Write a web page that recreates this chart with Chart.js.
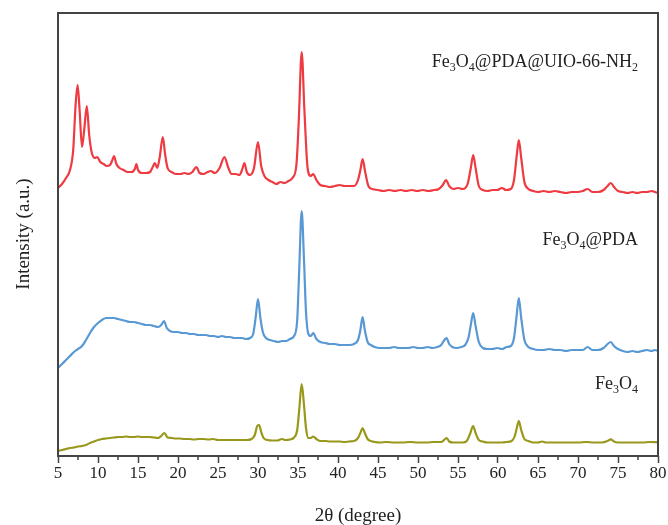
<!DOCTYPE html>
<html><head><meta charset="utf-8">
<script src="https://cdn.jsdelivr.net/npm/chart.js@4.4.0/dist/chart.umd.min.js"></script>
<style>html,body{margin:0;padding:0;background:#fff}#wrap{width:668px;height:525px}</style>
</head><body><div id="wrap"><canvas id="c" width="668" height="525"></canvas></div>
<script>
// 2θ tick labels
const xTickValues = [5,10,15,20,25,30,35,40,45,50,55,60,65,70,75,80];
const seriesNames = ['Fe3O4@PDA@UIO-66-NH2','Fe3O4@PDA','Fe3O4'];

// [2θ, intensity (a.u.)]
const uioSeries = [
[5.0,268],[5.5,272],[6.0,278],[6.5,286],[6.9,306],[7.2,351],[7.45,371],[7.7,346],[8.0,309],[8.3,328],[8.6,350],[8.9,321],[9.2,304],[9.6,298],[9.9,299],[10.3,294],[10.7,292],[11.1,290],[11.5,291],[11.8,296],[12.0,300],[12.3,292],[12.7,288],[13.2,286],[13.7,284],[14.2,284],[14.6,287],[14.8,292],[15.0,286],[15.5,283],[16.0,283],[16.5,284],[16.9,290],[17.1,293],[17.4,288],[17.7,298],[18.1,319],[18.4,301],[18.7,288],[19.2,284],[19.7,282],[20.3,282],[20.8,283],[21.3,282],[21.8,284],[22.3,289],[22.7,283],[23.2,282],[23.7,284],[24.1,285],[24.6,283],[25.2,288],[25.8,299],[26.3,288],[26.7,282],[27.2,282],[27.7,281],[28.0,286],[28.3,293],[28.6,284],[29.0,281],[29.5,288],[30.0,314],[30.4,290],[30.8,280],[31.3,276],[31.8,274],[32.3,272],[32.8,274],[33.3,273],[33.8,275],[34.3,278],[34.8,291],[35.1,336],[35.46,404],[35.8,346],[36.2,288],[36.6,280],[36.9,282],[37.3,276],[37.8,271],[38.4,270],[39.0,269],[39.6,270],[40.2,271],[40.8,270],[41.4,270],[42.0,270],[42.5,276],[42.8,286],[43.07,297],[43.4,284],[43.8,270],[44.3,267],[45.0,266],[45.7,265],[46.4,266],[47.1,265],[47.8,266],[48.5,265],[49.2,266],[49.9,265],[50.6,266],[51.3,265],[52.0,266],[52.6,267],[53.1,271],[53.5,276],[53.9,270],[54.4,267],[55.0,268],[55.6,267],[56.2,272],[56.6,288],[56.9,301],[57.2,288],[57.6,270],[58.1,266],[58.7,265],[59.3,266],[59.9,266],[60.5,268],[61.0,266],[61.6,267],[62.0,276],[62.35,301],[62.6,316],[62.9,298],[63.3,274],[63.8,267],[64.4,265],[65.0,264],[65.7,265],[66.4,264],[67.1,265],[67.8,264],[68.5,263],[69.2,264],[69.9,264],[70.6,265],[71.2,267],[71.8,264],[72.5,264],[73.2,266],[73.7,270],[74.1,273],[74.5,269],[75.0,265],[75.6,264],[76.2,263],[76.8,264],[77.4,263],[78.0,264],[78.6,264],[79.2,265],[79.6,264],[80.0,263]
];
const pdaSeries = [
[5.0,88],[5.5,92],[6.0,96],[6.5,100],[7.0,104],[7.5,107],[8.0,110],[8.5,116],[9.0,123],[9.5,129],[10.0,133],[10.5,136],[11.0,138],[11.5,138],[12.0,138],[12.5,137],[13.0,136],[13.5,135],[14.0,134],[14.5,134],[15.0,133],[15.5,132],[16.0,131],[16.5,131],[17.0,130],[17.5,129],[17.9,131],[18.25,135],[18.6,128],[19.0,125],[19.5,124],[20.0,124],[20.5,123],[21.0,123],[21.5,122],[22.0,122],[22.5,121],[23.0,121],[23.5,121],[24.0,120],[24.5,120],[25.0,119],[25.5,120],[26.0,119],[26.5,119],[27.0,118],[27.5,118],[28.0,118],[28.5,117],[29.0,118],[29.4,122],[29.7,138],[30.0,157],[30.3,138],[30.6,124],[31.0,118],[31.5,116],[32.0,115],[32.5,114],[33.0,115],[33.5,115],[34.0,117],[34.5,120],[34.9,136],[35.15,186],[35.46,245],[35.75,196],[36.0,144],[36.3,122],[36.6,120],[36.9,123],[37.3,117],[37.8,114],[38.4,113],[39.0,112],[39.6,112],[40.2,111],[40.8,111],[41.4,111],[42.0,112],[42.5,116],[42.8,126],[43.07,139],[43.35,126],[43.7,114],[44.1,111],[44.6,109],[45.2,108],[45.8,108],[46.4,108],[47.0,109],[47.6,108],[48.2,108],[48.8,108],[49.4,109],[50.0,108],[50.6,108],[51.2,109],[51.8,108],[52.4,109],[52.9,111],[53.3,116],[53.56,118],[53.9,112],[54.3,109],[54.8,108],[55.4,109],[55.9,111],[56.3,118],[56.6,131],[56.9,143],[57.2,130],[57.6,114],[58.1,108],[58.7,107],[59.3,107],[59.9,108],[60.5,107],[61.1,109],[61.6,110],[62.0,118],[62.3,138],[62.6,158],[62.9,138],[63.3,116],[63.8,109],[64.4,107],[65.0,106],[65.7,106],[66.4,107],[67.1,106],[67.8,106],[68.5,105],[69.2,106],[69.9,106],[70.6,106],[71.2,109],[71.8,106],[72.5,106],[73.2,108],[73.7,112],[74.1,114],[74.5,110],[75.0,107],[75.6,105],[76.2,104],[76.8,105],[77.4,104],[78.0,105],[78.6,106],[79.2,105],[79.6,106],[80.0,105]
];
const fe3o4Series = [
[5.0,5],[5.5,6],[6.0,7],[6.5,8],[7.0,8.5],[7.5,9.5],[8.0,10],[8.5,11],[9.0,13],[9.5,14.5],[10.0,16],[10.5,17],[11.0,17.5],[11.5,18],[12.0,18.5],[12.5,19],[13.0,19],[13.5,19.5],[14.0,19],[14.5,19],[15.0,19.5],[15.5,19],[16.0,19],[16.5,19],[17.0,18.5],[17.5,18],[17.9,20],[18.3,23],[18.7,18.5],[19.2,18],[19.7,17.5],[20.2,17.5],[20.8,17],[21.4,17],[22.0,16.5],[22.6,17],[23.2,17],[23.8,16.5],[24.4,17],[25.0,16],[25.6,16],[26.2,16],[26.8,16],[27.4,16],[28.0,16],[28.6,16],[29.2,17],[29.6,21],[29.9,30],[30.15,31],[30.4,24],[30.7,18],[31.2,16],[31.8,15.5],[32.4,15.5],[33.0,17],[33.4,16],[34.0,16.5],[34.5,18.5],[34.9,26],[35.15,46],[35.46,72],[35.75,51],[36.0,28],[36.3,18],[36.6,18],[36.9,19.5],[37.3,17],[37.8,15],[38.4,15],[39.0,14.5],[39.6,14.5],[40.2,14.5],[40.8,14],[41.4,14.5],[42.0,15],[42.5,18],[42.8,23],[43.07,28],[43.35,23],[43.7,17],[44.1,15],[44.6,14],[45.2,13.5],[46.0,14],[47.0,13.5],[48.0,13.5],[49.0,14],[50.0,13.5],[51.0,13.5],[52.0,14],[52.9,14],[53.2,15.5],[53.56,18],[53.9,14.5],[54.4,13.5],[55.0,13.5],[55.6,13.5],[56.1,15],[56.5,22],[56.9,30],[57.2,23],[57.6,16],[58.1,14.5],[58.7,13.5],[59.3,13.5],[59.9,13.5],[60.5,13.5],[61.1,14],[61.7,15],[62.1,20],[62.35,28],[62.6,35],[62.9,26],[63.3,17],[63.8,15],[64.4,13.5],[65.0,13.5],[65.5,14.5],[66.0,13.5],[67.0,13.5],[68.0,13.5],[69.0,13.5],[70.0,13.5],[71.0,14],[72.0,13.5],[73.0,13.5],[73.7,15],[74.1,16.7],[74.5,14.5],[75.0,13.5],[76.0,13.5],[77.0,13.5],[78.0,13.5],[79.0,14],[80.0,13.7]
];

const seriesColors = ['rgb(238,58,64)','rgb(88,152,212)','rgb(152,152,28)'];
const toPts = s => s.map(p => ({x:p[0], y:p[1]}));

const SERIF = '"Liberation Serif","Times New Roman",serif';
const TXT = '#222';

// draws "Fe3O4..." with subscript digits after element letters
function drawRich(ctx, text, rightX, baseY, size) {
  const segs = [];
  const re = /(Fe|O|H)(\d)/g;
  let last = 0, m;
  while ((m = re.exec(text)) !== null) {
    const end = m.index + m[1].length;
    segs.push({t: text.slice(last, end), sub:false});
    segs.push({t: m[2], sub:true});
    last = end + 1;
  }
  if (last < text.length) segs.push({t: text.slice(last), sub:false});
  const subSize = Math.round(size * 0.65);
  let total = 0;
  segs.forEach(s => { ctx.font = (s.sub?subSize:size) + 'px ' + SERIF; s.w = ctx.measureText(s.t).width; total += s.w; });
  let x = rightX - total;
  ctx.textBaseline = 'alphabetic';
  ctx.textAlign = 'left';
  segs.forEach(s => {
    ctx.font = (s.sub?subSize:size) + 'px ' + SERIF;
    ctx.fillText(s.t, x, baseY + (s.sub ? size*0.22 : 0));
    x += s.w;
  });
}

const decor = {
  id: 'decor',
  afterDatasetsDraw(chart) {
    const ctx = chart.ctx, a = chart.chartArea, xs = chart.scales.x;
    ctx.save();
    // frame
    ctx.strokeStyle = '#444'; ctx.lineWidth = 2;
    ctx.strokeRect(a.left, a.top, a.right - a.left, a.bottom - a.top);
    // minor ticks
    ctx.lineWidth = 1.5;
    for (let i = 0; i < xTickValues.length - 1; i++) {
      const v = (xTickValues[i] + xTickValues[i+1]) / 2;
      const px = xs.getPixelForValue(v);
      ctx.beginPath(); ctx.moveTo(px, a.bottom); ctx.lineTo(px, a.bottom + 4); ctx.stroke();
    }
    // series labels
    ctx.fillStyle = TXT;
    drawRich(ctx, seriesNames[0], 638, 67, 18);
    drawRich(ctx, seriesNames[1], 638, 245, 18);
    drawRich(ctx, seriesNames[2], 638, 389, 18);
    // y axis title
    ctx.translate(24, 234);
    ctx.rotate(-Math.PI/2);
    ctx.font = '19px ' + SERIF;
    ctx.textAlign = 'center'; ctx.textBaseline = 'middle';
    ctx.fillText('Intensity (a.u.)', 0, 0);
    ctx.restore();
  }
};

new Chart(document.getElementById('c'), {
  type: 'line',
  data: {
    datasets: [uioSeries, pdaSeries, fe3o4Series].map((s, i) => ({
      label: seriesNames[i],
      data: toPts(s),
      borderColor: seriesColors[i],
      borderWidth: 2.2,
      pointRadius: 0,
      fill: false,
      cubicInterpolationMode: 'monotone'
    }))
  },
  options: {
    responsive: false,
    animation: false,
    devicePixelRatio: 1,
    layout: { padding: { left: 58, top: 13, right: 10, bottom: 0 } },
    plugins: { legend: { display: false }, tooltip: { enabled: false } },
    scales: {
      x: {
        type: 'linear', min: 5, max: 80,
        afterBuildTicks: s => { s.ticks = xTickValues.map(v => ({value: v})); },
        afterFit: s => { s.height = 69; },
        ticks: { font: { family: SERIF, size: 17 }, color: TXT, padding: 0, maxRotation: 0, autoSkip: false },
        grid: { drawOnChartArea: false, drawTicks: true, tickLength: 7, tickColor: '#444', tickWidth: 1.5 },
        border: { display: false },
        title: { display: true, text: '2θ (degree)', font: { family: SERIF, size: 19 }, color: TXT, padding: { top: 0, bottom: -2 } }
      },
      y: { display: false, min: 0, max: 443 }
    }
  },
  plugins: [decor]
});
</script></body></html>
